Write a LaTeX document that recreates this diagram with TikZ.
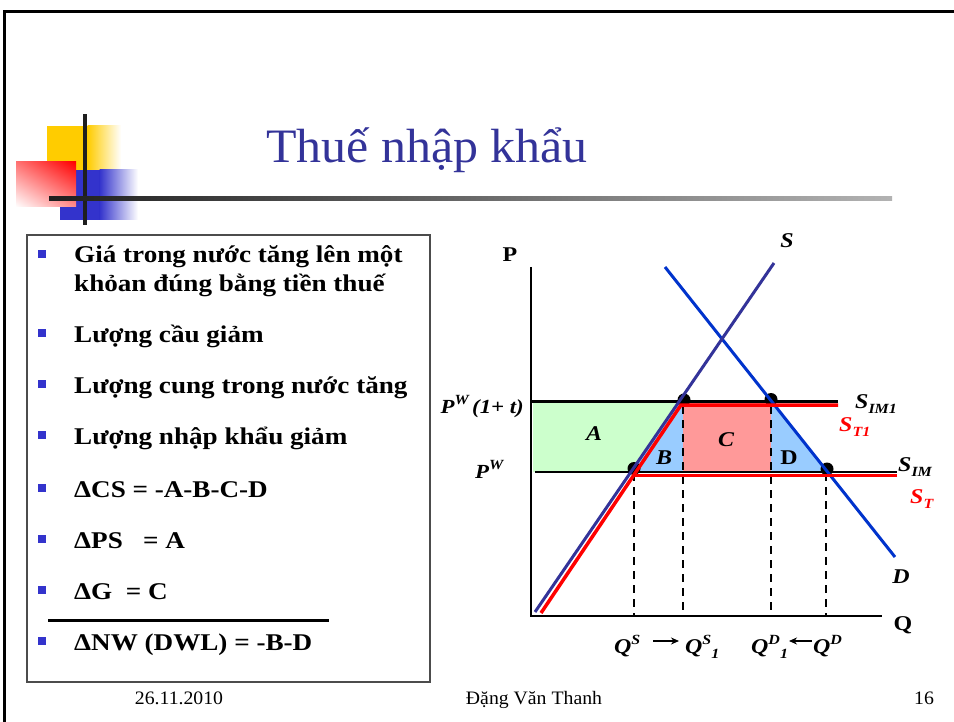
\documentclass[tikz,border=0pt]{standalone}
\usepackage{fontspec}
\setmainfont{Liberation Serif}
\newfontfamily\bulfont[FakeStretch=1.13]{Liberation Serif}
\newfontfamily\grfont[FakeStretch=1.14]{Liberation Serif}
\newfontfamily\titfont[FakeStretch=1.04]{Liberation Serif}
\newfontfamily\footfont[FakeStretch=1.04]{Liberation Serif}
\usetikzlibrary{arrows.meta,shadings}
\definecolor{titleblue}{HTML}{333399}
\definecolor{bulletblue}{HTML}{3333CC}
\definecolor{logoyellow}{HTML}{FFCC00}
\definecolor{logoblue}{HTML}{3333CC}
\definecolor{sblue}{HTML}{333399}
\definecolor{dblue}{HTML}{0033CC}
\definecolor{areagreen}{HTML}{CCFFCC}
\definecolor{areablue}{HTML}{99CCFF}
\definecolor{areapink}{HTML}{FF9999}
\newcommand\upr[1]{\raisebox{0.42em}{\fontsize{14}{14}\selectfont #1}}
\newcommand\lowr[1]{\raisebox{-0.28em}{\fontsize{14}{14}\selectfont #1}}
\tikzset{
  bultext/.style={anchor=base west, inner sep=0pt, font=\bulfont\bfseries\fontsize{24}{29}\selectfont},
  bulsq/.style={fill=bulletblue},
  glabel/.style={anchor=base, inner sep=0pt, font=\grfont\bfseries\itshape\fontsize{21}{21}\selectfont},
  glabelw/.style={anchor=base west, inner sep=0pt, font=\grfont\bfseries\itshape\fontsize{21}{21}\selectfont},
  axislabel/.style={anchor=base, inner sep=0pt, font=\grfont\bfseries\fontsize{21}{21}\selectfont},
  footer/.style={anchor=base, inner sep=0pt, font=\footfont\fontsize{19}{19}\selectfont},
  guide/.style={line width=2.2pt, dash pattern=on 8pt off 6pt},
  dot/.style={fill=black},
  redline/.style={red, line width=3.5pt},
  priceline/.style={black, line width=2.5pt},
  qarrow/.style={line width=1.8pt, -{Stealth[length=8pt,width=7pt]}}
}
\begin{document}
\begin{tikzpicture}[x=1pt,y=-1pt]
\useasboundingbox (0,0) rectangle (954,722);
\fill[white] (0,0) rectangle (954,722);
% outer frame
\draw[line width=3pt] (4.5,722) -- (4.5,12) -- (954,12);

% logo
\fill[logoyellow] (47,126) rectangle (88,170);
\shade[left color=logoyellow, right color=white] (87.5,126) rectangle (121,170);
\fill[logoblue] (60,170) rectangle (100,220);
\shade[left color=logoblue, right color=white] (99.5,170) rectangle (138,220);
\shade[upper right=red, lower left=white, upper left=red!55!white, lower right=red!45!white] (16,162) rectangle (76,207);
\fill[black!88] (83,114) rectangle (87,225);
\shade[left color=black!88, right color=black!30] (49,197) rectangle (892,201);

% title
\node[anchor=base, inner sep=0pt, text=titleblue, font=\titfont\fontsize{48}{48}\selectfont] (title) at (427,163) {Thuế nhập khẩu};

% left box
\draw[line width=1.3pt, black!70] (27,235) rectangle (430,682);
\foreach \yy in {263,342,393,444,497,548,599,650}{
  \fill[bulsq] (38,\yy-13) rectangle (46,\yy-5);
}
\node[bultext] (b1a) at (74,263) {Giá trong nước tăng lên một};
\node[bultext] (b1b) at (74,292) {khỏan đúng bằng tiền thuế};
\node[bultext] (b2) at (74,342) {Lượng cầu giảm};
\node[bultext] (b3) at (74,393) {Lượng cung trong nước tăng};
\node[bultext] (b4) at (74,444) {Lượng nhập khẩu giảm};
\node[bultext] (b5) at (74,497) {ΔCS = -A-B-C-D};
\node[bultext] (b6) at (74,548) {ΔPS\ \ \ = A};
\node[bultext] (b7) at (74,599) {ΔG\ \ = C};
\draw[line width=3pt] (48,620) -- (329,620);
\node[bultext] (b8) at (74,650) {ΔNW (DWL) = -B-D};

% graph coordinates
\coordinate (O) at (531,616);
\coordinate (Ptop) at (531,267);
\coordinate (Qend) at (882,616);
\coordinate (Sbot) at (535,612);
\coordinate (Stop) at (774,263);
\coordinate (Dtop) at (665,267);
\coordinate (Dbot) at (895,557);

% areas
\fill[areagreen] (533,402) -- (680,402) -- (632,472) -- (533,472) -- cycle;
\fill[areablue] (680,403) -- (683,403) -- (683,472) -- (632,472) -- cycle;
\fill[areapink] (683,403) rectangle (771,472);
\fill[areablue] (771,403) -- (774,403) -- (828,472) -- (771,472) -- cycle;

% guides
\coordinate (g1) at (634,473);
\coordinate (g2) at (683,406);
\coordinate (g3) at (771,406);
\coordinate (g4) at (826,473);
\foreach \g/\xx in {g1/634,g2/683,g3/771,g4/826}{
  \draw[guide] (\g) -- (\xx,616);
}

% axes
\draw[line width=2.5pt] (Ptop) -- (O) -- (Qend);

% price lines
\coordinate (pw1L) at (532,401.5);
\coordinate (pw1R) at (838,401.5);
\coordinate (pwL) at (535,472);
\coordinate (pwR) at (897,472);
\draw[priceline] (pw1L) -- (pw1R);
\draw[priceline] (pwL) -- (pwR);

% dots
\fill[dot] (684,400) circle (6.5);
\fill[dot] (771,399.5) circle (6.5);
\fill[dot] (634,468.5) circle (6.5);
\fill[dot] (827,469) circle (6.5);

% D and S
\draw[dblue, line width=3pt] (Dtop) -- (Dbot);
\draw[sblue, line width=3pt] (Sbot) -- (Stop);

% red tariff supply
\coordinate (rs0) at (541,613);
\coordinate (rs1) at (681,405);
\coordinate (rs2) at (838,405);
\coordinate (rt1) at (633,475.5);
\coordinate (rt2) at (897,475.5);
\draw[redline] (rs0) -- (rs1) -- (rs2);
\draw[redline] (rt1) -- (rt2);

% axis labels
\node[axislabel] (Plab) at (510,262) {P};
\node[axislabel] (Qlab) at (903,630) {Q};
\node[glabel] (Slab) at (787,248) {S};
\node[glabel] (Dlab) at (901,583) {D};

% price labels
\node[anchor=base east, inner sep=0pt, font=\grfont\bfseries\itshape\fontsize{20}{20}\selectfont] (pw1lab) at (524,413) {P\upr{W}\,(1+ t)};
\node[anchor=base west, inner sep=0pt, font=\grfont\bfseries\itshape\fontsize{20}{20}\selectfont] (pwlab) at (475,478) {P\upr{W}};

% area labels
\node[glabel] (Alab) at (594,440) {A};
\node[glabel] (Blab) at (664,464) {B};
\node[glabel] (Clab) at (726,446) {C};
\node[axislabel] (Dalab) at (789,464) {D};

% supply labels
\node[glabelw] (sim1) at (855,408) {S\lowr{IM1}};
\node[glabelw, text=red] (st1) at (839,431) {S\lowr{T1}};
\node[glabelw] (sim) at (898,471) {S\lowr{IM}};
\node[glabelw, text=red] (st) at (910,503) {S\lowr{T}};

% quantity labels
\node[glabelw] (qs) at (614,653) {Q\upr{S}};
\node[glabelw] (qs1) at (685,653) {Q\upr{S}\lowr{1}};
\node[glabelw] (qd1) at (751,653) {Q\upr{D}\lowr{1}};
\node[glabelw] (qd) at (813,653) {Q\upr{D}};
\coordinate (a1s) at (653,641);
\coordinate (a1e) at (679,641);
\coordinate (a2s) at (812,641);
\coordinate (a2e) at (789,641);
\draw[qarrow] (a1s) -- (a1e);
\draw[qarrow] (a2s) -- (a2e);

% footer
\node[footer] (date) at (179,704) {26.11.2010};
\node[footer] (author) at (534,704) {Đặng Văn Thanh};
\node[footer] (page) at (924,704) {16};
\end{tikzpicture}
\end{document}
